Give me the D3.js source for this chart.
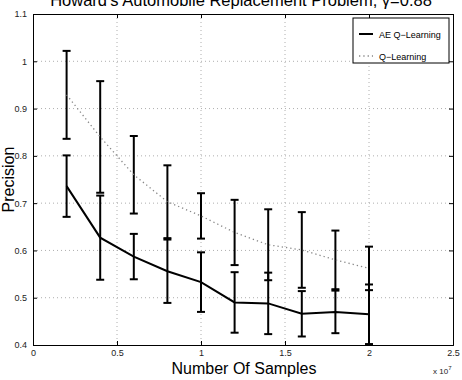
<!DOCTYPE html>
<html>
<head>
<meta charset="utf-8">
<script src="https://cdn.jsdelivr.net/npm/d3@7"></script>
<style>
  body { margin: 0; background: #fff; }
  svg { font-family: 'Liberation Sans', Arial, sans-serif; }
</style>
</head>
<body>
<div id="chart"></div>
<script>
// samples in units of 10^7
const samples = [0.2, 0.4, 0.6, 0.8, 1.0, 1.2, 1.4, 1.6, 1.8, 2.0];
const aeMean = [0.736, 0.627, 0.587, 0.556, 0.533, 0.490, 0.488, 0.466, 0.470, 0.465];
const aeErr = [0.065, 0.089, 0.048, 0.067, 0.063, 0.064, 0.065, 0.048, 0.045, 0.063];
const qMean = [0.929, 0.840, 0.760, 0.703, 0.673, 0.638, 0.612, 0.601, 0.580, 0.562];
const qErr = [0.093, 0.118, 0.082, 0.077, 0.048, 0.069, 0.075, 0.080, 0.062, 0.046];
const xTicks = [0, 0.5, 1, 1.5, 2, 2.5];
const yTicks = [0.4, 0.5, 0.6, 0.7, 0.8, 0.9, 1, 1.1];

let width = 462;
let height = 380;
let margin = { left: 33, right: 9, top: 14, bottom: 35 };

let x = d3.scaleLinear().domain([0, 2.5]).range([margin.left, width - margin.right]);
let y = d3.scaleLinear().domain([0.4, 1.1]).range([height - margin.bottom, margin.top]);

let svg = d3.select('#chart').append('svg').attr('width', width).attr('height', height);

//grid
let grid = svg.append('g').attr('stroke', '#999').attr('stroke-width', 0.8).attr('stroke-dasharray', '1,3');
grid.selectAll('.gx').data(xTicks.slice(1, -1)).enter().append('line')
  .attr('x1', (d) => x(d)).attr('x2', (d) => x(d))
  .attr('y1', y(1.1)).attr('y2', y(0.4));
grid.selectAll('.gy').data(yTicks.slice(1, -1)).enter().append('line')
  .attr('x1', x(0)).attr('x2', x(2.5))
  .attr('y1', (d) => y(d)).attr('y2', (d) => y(d));

//axes (ticks inside, mirrored top and right)
let fmt = (d) => d3.format('~g')(d);
svg.append('g').attr('transform', `translate(0,${y(0.4)})`)
  .call(d3.axisBottom(x).tickValues(xTicks).tickSize(-4).tickPadding(5).tickFormat(fmt));
svg.append('g').attr('transform', `translate(0,${y(1.1)})`)
  .call(d3.axisTop(x).tickValues(xTicks).tickSize(-4).tickFormat(''));
svg.append('g').attr('transform', `translate(${x(0)},0)`)
  .call(d3.axisLeft(y).tickValues(yTicks).tickSize(-4).tickPadding(6).tickFormat(fmt));
svg.append('g').attr('transform', `translate(${x(2.5)},0)`)
  .call(d3.axisRight(y).tickValues(yTicks).tickSize(-4).tickFormat(''));
svg.selectAll('.domain, .tick line').attr('stroke', '#000').attr('stroke-width', 1);
svg.selectAll('.tick text').attr('font-size', 9).attr('font-family', 'Liberation Sans, Arial, sans-serif').attr('fill', '#222');

//error bars (both series, solid black)
function errorBars(means, errs) {
  let g = svg.append('g').attr('stroke', '#000').attr('stroke-width', 2);
  samples.forEach((s, i) => {
    let top = y(means[i] + errs[i]);
    let bot = y(means[i] - errs[i]);
    g.append('line').attr('x1', x(s)).attr('x2', x(s)).attr('y1', top).attr('y2', bot);
    g.append('line').attr('x1', x(s) - 4).attr('x2', x(s) + 4).attr('y1', top).attr('y2', top);
    g.append('line').attr('x1', x(s) - 4).attr('x2', x(s) + 4).attr('y1', bot).attr('y2', bot);
  });
}
errorBars(qMean, qErr);
errorBars(aeMean, aeErr);

let line = d3.line().x((d) => x(d[0])).y((d) => y(d[1]));
svg.append('path')
  .datum(samples.map((s, i) => [s, qMean[i]]))
  .attr('d', line).attr('fill', 'none')
  .attr('stroke', '#888').attr('stroke-width', 1.3).attr('stroke-dasharray', '1.3,3');
svg.append('path')
  .datum(samples.map((s, i) => [s, aeMean[i]]))
  .attr('d', line).attr('fill', 'none')
  .attr('stroke', '#000').attr('stroke-width', 2);

//legend
let legend = svg.append('g').attr('transform', 'translate(353,18)');
legend.append('rect').attr('width', 96).attr('height', 45)
  .attr('fill', '#fff').attr('stroke', '#000').attr('stroke-width', 1);
legend.append('line').attr('x1', 6).attr('x2', 20).attr('y1', 16).attr('y2', 16)
  .attr('stroke', '#000').attr('stroke-width', 2);
legend.append('text').attr('x', 26).attr('y', 19.5).attr('font-size', 9).text('AE Q\u2212Learning');
legend.append('line').attr('x1', 6).attr('x2', 20).attr('y1', 38).attr('y2', 38)
  .attr('stroke', '#888').attr('stroke-width', 1.3).attr('stroke-dasharray', '1.3,3');
legend.append('text').attr('x', 26).attr('y', 41.5).attr('font-size', 9).text('Q\u2212Learning');

//labels
svg.append('text').attr('x', 241).attr('y', 6).attr('text-anchor', 'middle')
  .attr('font-size', 16.5).text('Howard\u2019s Automobile Replacement Problem, \u03b3=0.88');
svg.append('text').attr('x', 244).attr('y', 374).attr('text-anchor', 'middle')
  .attr('font-size', 16).text('Number Of Samples');
svg.append('text').attr('transform', `translate(14,${(y(0.4) + y(1.1)) / 2}) rotate(-90)`)
  .attr('text-anchor', 'middle').attr('font-size', 16).text('Precision');
let mult = svg.append('text').attr('x', 433).attr('y', 374).attr('font-size', 8).attr('fill', '#222');
mult.append('tspan').text('x 10');
mult.append('tspan').attr('dy', -4).attr('font-size', 6).text('7');
</script>
</body>
</html>
